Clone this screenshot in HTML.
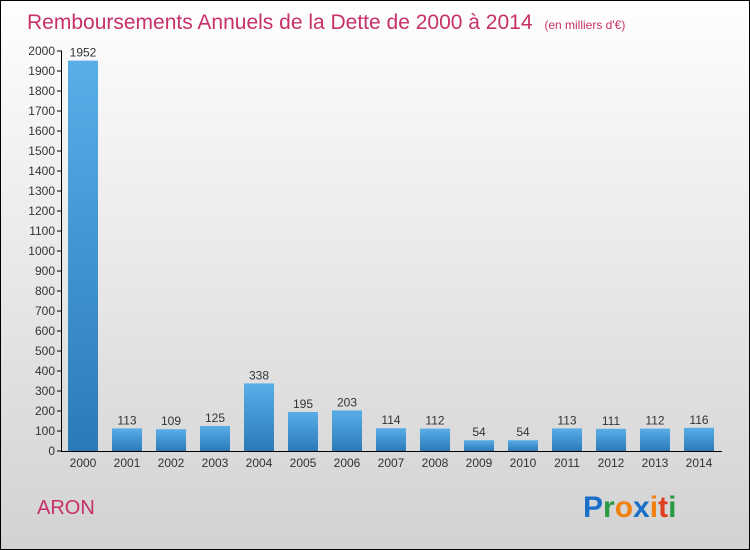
<!DOCTYPE html>
<html><head><meta charset="utf-8"><style>
body{margin:0}
#c{width:748px;height:548px;border:1px solid #000;background:linear-gradient(#fefefe,#d2d2d2);position:relative;overflow:hidden;font-family:"Liberation Sans",sans-serif}
</style></head><body>
<div id="c">
<svg id="s" width="748" height="548" style="position:absolute;left:0;top:0">
<defs><linearGradient id="g" x1="0" y1="0" x2="0" y2="1"><stop offset="0" stop-color="#5aaee8"/><stop offset="1" stop-color="#2a7ab8"/></linearGradient></defs>
<text x="26" y="28" font-size="21" fill="#c8306a">Remboursements Annuels de la Dette de 2000 à 2014 <tspan font-size="12" dx="6">(en milliers d'€)</tspan></text>
<text x="36" y="513" font-size="20" fill="#c8306a">ARON</text>
<g font-size="30" font-family="'Liberation Sans',sans-serif" font-weight="bold">
<text x="582" y="516"><tspan fill="#1a70c8">P</tspan><tspan fill="#2a9a40">r</tspan><tspan fill="#f08010">o</tspan><tspan fill="#1a70c8">x</tspan><tspan fill="#f08010">i</tspan><tspan fill="#e04020">t</tspan><tspan fill="#2a9a40">i</tspan></text></g>
<g id="plot"></g>
</svg>
</div>
<script>
const years=["2000","2001","2002","2003","2004","2005","2006","2007","2008","2009","2010","2011","2012","2013","2014"];
const values=[1952,113,109,125,338,195,203,114,112,54,54,113,111,112,116];
const yTicks=[0,100,200,300,400,500,600,700,800,900,1000,1100,1200,1300,1400,1500,1600,1700,1800,1900,2000];
const NS="http://www.w3.org/2000/svg",g=document.getElementById('plot');
const y=v=>450-v*0.2, x=i=>82+i*44;
function el(t,a,txt){const e=document.createElementNS(NS,t);for(const k in a)e.setAttribute(k,a[k]);if(txt!=null)e.textContent=txt;g.appendChild(e);return e;}
yTicks.forEach(t=>{
 const l=el('line',{x1:56,x2:61,y1:y(t),y2:y(t),stroke:'#000'});
 
 
 const tx=el('text',{x:54,y:y(t)+4,'font-size':12,'text-anchor':'end',fill:'#333'},t);
 
 
});
values.forEach((v,i)=>{
 const r=el('rect',{x:x(i)-15,y:y(v),width:30,height:450-y(v),fill:'url(#g)'});
 
 
 const vl=el('text',{x:x(i),y:y(v)-4,'font-size':12,'text-anchor':'middle',fill:'#333'},v);
 
 
 const xl=el('text',{x:x(i),y:466,'font-size':12,'text-anchor':'middle',fill:'#333'},years[i]);
 
 
});
const ya=el('line',{x1:60.5,x2:60.5,y1:50,y2:450,stroke:'#000'});


const xa=el('line',{x1:60,x2:721,y1:450.5,y2:450.5,stroke:'#000'});


</script>
</body></html>
